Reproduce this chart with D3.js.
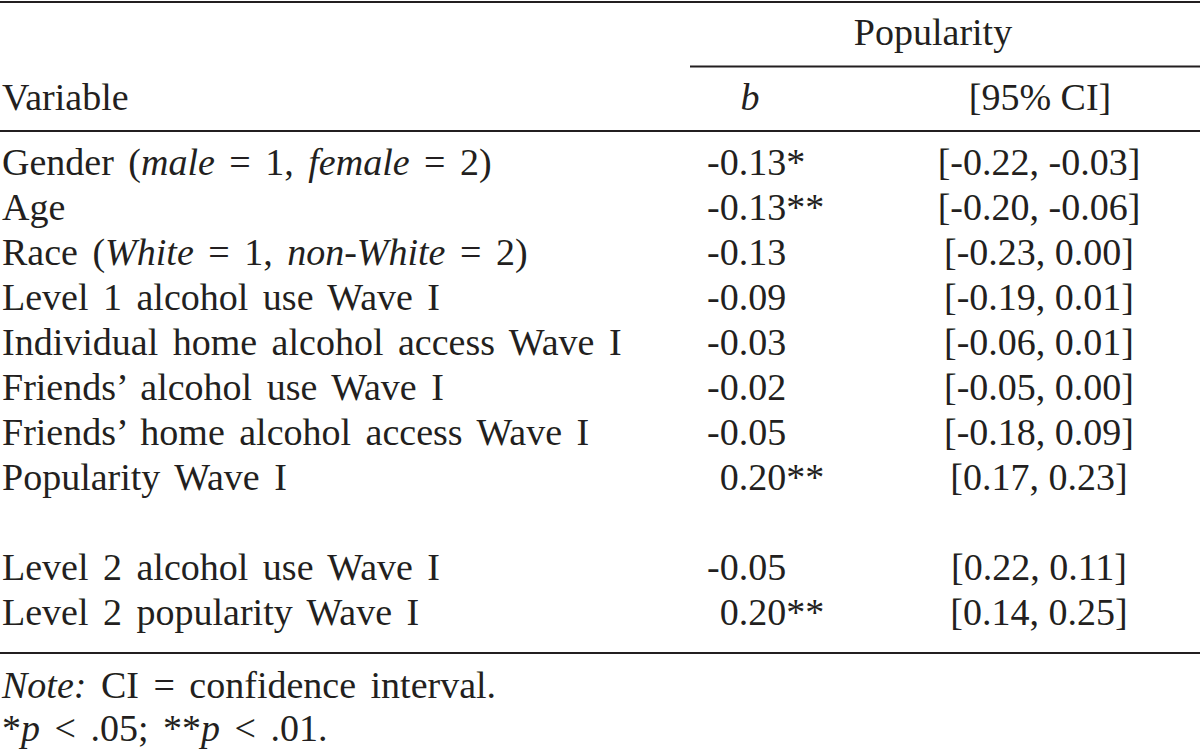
<!DOCTYPE html>
<html>
<head>
<meta charset="utf-8">
<script src="https://cdn.jsdelivr.net/npm/d3@7"></script>
<style>
  html, body { margin: 0; padding: 0; background: #ffffff; }
  svg { display: block; }
  text { font-family: "Liberation Serif", "Times New Roman", serif; fill: #231f20; }
</style>
</head>
<body>
<svg id="chart" width="1200" height="753"></svg>
<script>
// ---- data ----
const variables = [
  "Gender (_male_ = 1, _female_ = 2)",
  "Age",
  "Race (_White_ = 1, _non-White_ = 2)",
  "Level 1 alcohol use Wave I",
  "Individual home alcohol access Wave I",
  "Friends\u2019 alcohol use Wave I",
  "Friends\u2019 home alcohol access Wave I",
  "Popularity Wave I",
  "Level 2 alcohol use Wave I",
  "Level 2 popularity Wave I"
];
const rowBlock = [1, 1, 1, 1, 1, 1, 1, 1, 2, 2];
const bValues = [-0.13, -0.13, -0.13, -0.09, -0.03, -0.02, -0.05, 0.20, -0.05, 0.20];
const stars = ["*", "**", "", "", "", "", "", "**", "", "**"];
const ciLower = [-0.22, -0.20, -0.23, -0.19, -0.06, -0.05, -0.18, 0.17, 0.22, 0.14];
const ciUpper = [-0.03, -0.06, 0.00, 0.01, 0.01, 0.00, 0.09, 0.23, 0.11, 0.25];
const spannerLabel = "Popularity";
const columnHeaders = ["Variable", "_b_", "[95% CI]"];
const notes = ["_Note:_ CI = confidence interval.", "*_p_ < .05; **_p_ < .01."];

// ---- layout ----
const W = 1200, H = 753;
const FS = 38;
const WS = 5;
const svg = d3.select("#chart");
const ink = "#231f20";

const rowIndex = variables.map((d, i) => i + (rowBlock[i] - 1));
const y = d3.scaleLinear().domain([0, d3.max(rowIndex)]).range([175, 625]);

const colX = { variable: 2, b: 707, ci: 1039 };

function fmt(v) {
  const s = Math.abs(v).toFixed(2);
  return (v < 0 ? "-" : "") + s;
}

// write text with _italic_ segments
function richText(sel, str) {
  const parts = str.split("_");
  parts.forEach((p, i) => {
    if (!p.length) return;
    sel.append("tspan").attr("font-style", i % 2 === 1 ? "italic" : "normal").text(p);
  });
  return sel;
}

function rule(y0, x0, x1, w) {
  svg.append("line").attr("x1", x0).attr("x2", x1).attr("y1", y0).attr("y2", y0)
    .attr("stroke", ink).attr("stroke-width", w);
}

// rules
rule(2, 0, W, 2);
rule(66.5, 690, W, 2);
rule(131, 0, W, 2);
rule(653, 0, W, 2);

// headers
svg.append("text").attr("x", 933).attr("y", 45).attr("text-anchor", "middle")
  .attr("font-size", FS).text(spannerLabel);
richText(svg.append("text").attr("x", colX.variable).attr("y", 110).attr("font-size", FS), columnHeaders[0]);
richText(svg.append("text").attr("x", 750).attr("y", 110).attr("text-anchor", "middle").attr("font-size", FS), columnHeaders[1]);
richText(svg.append("text").attr("x", 1040).attr("y", 110).attr("text-anchor", "middle").attr("font-size", FS), columnHeaders[2]);

// measure hyphen width for alignment of positive coefficients
const probe = svg.append("text").attr("font-size", FS).attr("x", -100).attr("y", -100).text("-");
const hyW = probe.node().getComputedTextLength();
probe.remove();

const rows = svg.append("g").selectAll("g.row")
  .data(variables.map((v, i) => ({ v, i })))
  .join("g").attr("class", "row");

rows.each(function (d) {
  const g = d3.select(this);
  const yy = y(rowIndex[d.i]);
  richText(g.append("text").attr("x", colX.variable).attr("y", yy).attr("font-size", FS)
    .attr("word-spacing", WS), d.v);
  const bv = bValues[d.i];
  g.append("text").attr("x", colX.b + (bv < 0 ? 0 : hyW)).attr("y", yy).attr("font-size", FS)
    .text(fmt(bv) + stars[d.i]);
  g.append("text").attr("x", colX.ci).attr("y", yy).attr("font-size", FS).attr("text-anchor", "middle")
    .text("[" + fmt(ciLower[d.i]) + ", " + fmt(ciUpper[d.i]) + "]");
});

// notes
notes.forEach((n, i) => {
  richText(svg.append("text").attr("x", colX.variable).attr("y", 698 + i * 43).attr("font-size", FS)
    .attr("word-spacing", WS), n);
});
</script>
</body>
</html>
